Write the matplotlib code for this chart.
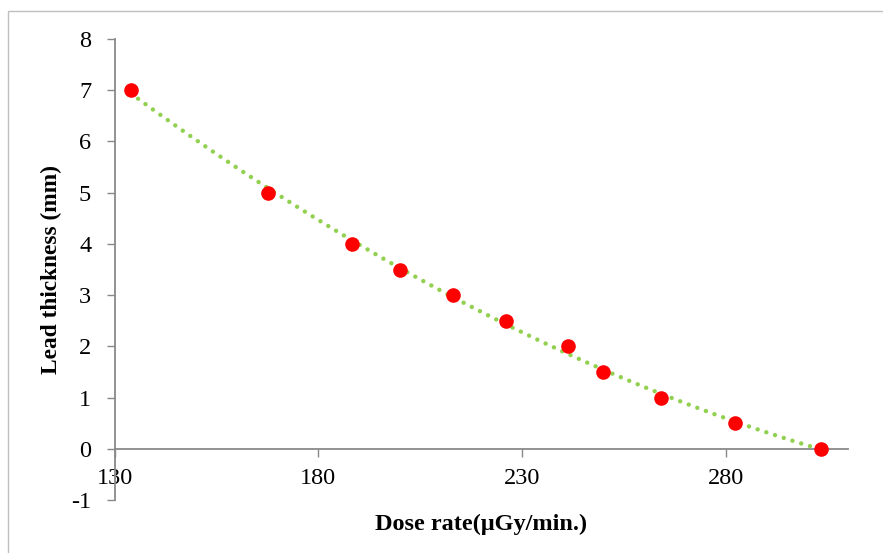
import numpy as np
import matplotlib
matplotlib.use("Agg")
import matplotlib.pyplot as plt
from matplotlib.patches import Rectangle

# dose rate (uGy/min) vs lead thickness (mm)
dose_rate = [133.9, 167.6, 188.3, 200.1, 213.0, 226.1, 241.3, 249.9, 264.2, 282.3, 303.5]
thickness = [7, 5, 4, 3.5, 3, 2.5, 2, 1.5, 1, 0.5, 0]

x_ticks = [130, 180, 230, 280]
y_ticks = [-1, 0, 1, 2, 3, 4, 5, 6, 7, 8]

plt.rcParams['font.family'] = ['Liberation Serif', 'DejaVu Serif']
plt.rcParams['axes.unicode_minus'] = False

fig = plt.figure(figsize=(8.83, 5.53), dpi=100)
ax = fig.add_axes([0.130, 0.0958, 0.830, 0.8337])

# excel-style 2nd order polynomial trendline
coef = np.polyfit(dose_rate, thickness, 2)
xs = np.linspace(min(dose_rate), max(dose_rate), 200)
ax.plot(xs, np.polyval(coef, xs), color='#92D050', lw=3.2,
        linestyle=(0, (0.01, 2.05)), dash_capstyle='round', zorder=2)

ax.plot(dose_rate, thickness, 'o', color='#FF0000', ms=10.5, mew=0, zorder=3)

ax.set_xlim(130, 310)
ax.set_ylim(-1, 8)
ax.set_xticks(x_ticks)
ax.set_yticks(y_ticks)

grey = '#898989'
ax.spines['top'].set_visible(False)
ax.spines['right'].set_visible(False)
ax.spines['bottom'].set_position(('data', 0))
for s in ['left', 'bottom']:
    ax.spines[s].set_color(grey)
    ax.spines[s].set_linewidth(1.3)
ax.tick_params(axis='both', colors=grey, labelcolor='black', labelsize=17.5,
               length=6, width=1, direction='out')
ax.tick_params(axis='x', pad=8)
ax.tick_params(axis='y', pad=11)

ax.set_xlabel('Dose rate(\u03bcGy/min.)', fontsize=17.5, fontweight='bold')
ax.xaxis.set_label_coords(0.5, -0.03)
ax.set_ylabel('Lead thickness (mm)', fontsize=16.8, fontweight='bold')
ax.yaxis.set_label_coords(-0.072, 0.5)

# chart area border (only top and left visible in the crop)
fig.patches.append(Rectangle((8 / 883, -0.1), 2, 1 - 11 / 553 + 0.1,
                             transform=fig.transFigure, fill=False,
                             edgecolor='#BFBFBF', lw=1))

fig.savefig('out.png', dpi=100)
